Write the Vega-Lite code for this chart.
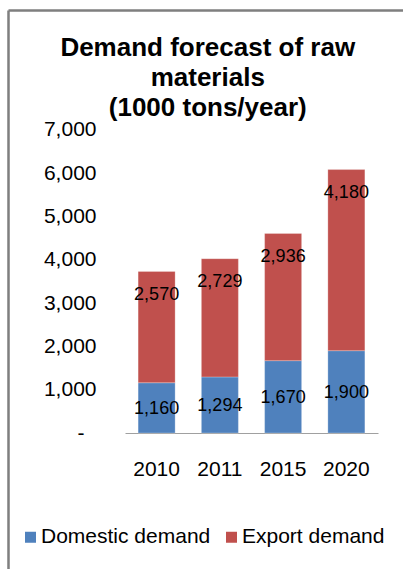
{
  "$schema": "https://vega.github.io/schema/vega-lite/v6.json",
  "width": 394.5,
  "height": 558.5,
  "autosize": "none",
  "padding": {"left": 8.5, "top": 10.5, "right": 0, "bottom": 0},
  "background": "white",
  "title": {
    "text": ["Demand forecast of raw", "materials", "(1000 tons/year)"],
    "font": "Liberation Sans",
    "fontSize": 26,
    "fontWeight": "bold",
    "color": "black",
    "anchor": "middle",
    "frame": "group",
    "baseline": "top",
    "lineHeight": 30,
    "offset": -110,
    "dx": 2
  },
  "data": {
    "values": [
      {"year": "2010", "type": "Domestic demand", "value": 1160},
      {"year": "2010", "type": "Export demand", "value": 2570},
      {"year": "2011", "type": "Domestic demand", "value": 1294},
      {"year": "2011", "type": "Export demand", "value": 2729},
      {"year": "2015", "type": "Domestic demand", "value": 1670},
      {"year": "2015", "type": "Export demand", "value": 2936},
      {"year": "2020", "type": "Domestic demand", "value": 1900},
      {"year": "2020", "type": "Export demand", "value": 4180}
    ]
  },
  "encoding": {
    "x": {
      "field": "year",
      "type": "nominal",
      "sort": null,
      "scale": {"type": "band", "range": [116.5, 369.5], "paddingInner": 0.415, "paddingOuter": 0.2075},
      "axis": {
        "title": null,
        "orient": "bottom",
        "offset": -136,
        "ticks": false,
        "domainColor": "#A0A0A0",
        "domainWidth": 1,
        "labelAngle": 0,
        "labelFont": "Liberation Sans",
        "labelFontSize": 21,
        "labelColor": "black",
        "labelBaseline": "middle",
        "labelPadding": 36
      }
    }
  },
  "layer": [
    {
      "mark": {"type": "bar", "stroke": "#FFFFFF", "strokeOpacity": 0.35, "strokeWidth": 0.75},
      "encoding": {
        "y": {
          "field": "value",
          "type": "quantitative",
          "stack": "zero",
          "scale": {"domain": [0, 7000], "range": [422.5, 119.2], "nice": false, "zero": true},
          "axis": {
            "title": null,
            "orient": "left",
            "offset": -87.5,
            "domain": false,
            "ticks": false,
            "grid": false,
            "values": [0, 1000, 2000, 3000, 4000, 5000, 6000, 7000],
            "labelExpr": "datum.value === 0 ? '-' : format(datum.value, ',')",
            "labelFont": "Liberation Sans",
            "labelFontSize": 21,
            "labelColor": "black",
            "labelPadding": {"condition": {"test": "datum.value === 0", "value": 12}, "value": 0},
            "labelAlign": "right",
            "labelBaseline": "middle"
          }
        },
        "color": {
          "field": "type",
          "type": "nominal",
          "scale": {"domain": ["Domestic demand", "Export demand"], "range": ["#4F81BD", "#C0504D"]},
          "legend": {
            "title": null,
            "orient": "none",
            "direction": "horizontal",
            "legendX": 11.5,
            "legendY": 516,
            "padding": 0,
            "symbolType": "square",
            "symbolSize": 121,
            "symbolStrokeWidth": 0,
            "labelFont": "Liberation Sans",
            "labelFontSize": 21,
            "labelColor": "black",
            "labelOffset": 0,
            "labelLimit": 0,
            "columnPadding": 10
          }
        },
        "order": {"field": "type", "type": "nominal", "sort": "ascending"}
      }
    },
    {
      "mark": {"type": "text", "font": "Liberation Sans", "fontSize": 18, "color": "black", "baseline": "middle", "dy": 23.5},
      "encoding": {
        "y": {
          "field": "value",
          "type": "quantitative",
          "stack": "zero",
          "scale": {"domain": [0, 7000], "range": [422.5, 119.2], "nice": false, "zero": true},
          "axis": null
        },
        "detail": {"field": "type", "type": "nominal"},
        "order": {"field": "type", "type": "nominal", "sort": "ascending"},
        "text": {"field": "value", "type": "quantitative", "format": ","},
        "opacity": {"condition": {"test": "datum.type === 'Domestic demand'", "value": 0}, "value": 1}
      }
    },
    {
      "transform": [{"filter": "datum.type === 'Domestic demand'"}],
      "mark": {"type": "text", "font": "Liberation Sans", "fontSize": 18, "color": "black", "baseline": "middle", "dy": 1},
      "encoding": {
        "y": {
          "field": "value",
          "type": "quantitative",
          "stack": null,
          "scale": {"domain": [0, 14000], "range": [422.5, 119.2], "nice": false, "zero": true},
          "axis": null
        },
        "text": {"field": "value", "type": "quantitative", "format": ","}
      }
    }
  ],
  "resolve": {"scale": {"y": "independent"}},
  "config": {
    "view": {"stroke": "#7F7F7F", "strokeWidth": 2.5, "strokeDash": [394.5, 953, 558.5, 0]}
  }
}
